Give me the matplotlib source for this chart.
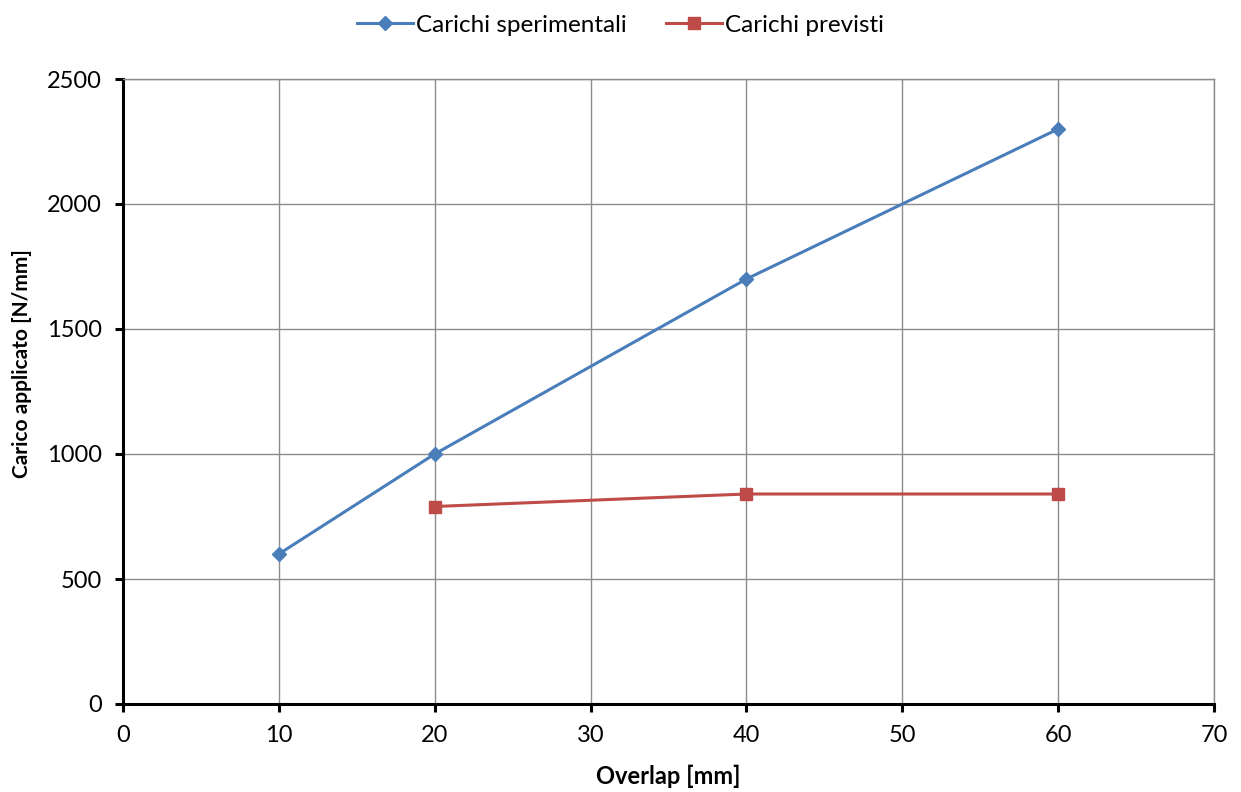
import matplotlib
matplotlib.use("Agg")
import matplotlib.pyplot as plt
from matplotlib.ticker import MultipleLocator

plt.rcParams['font.family'] = ['Lato', 'DejaVu Sans']

# Data
overlap_exp = [10, 20, 40, 60]
carichi_sperimentali = [600, 1000, 1700, 2300]
overlap_prev = [20, 40, 60]
carichi_previsti = [790, 840, 840]

W, H = 1241, 792
fig = plt.figure(figsize=(W / 100, H / 100), dpi=100)
ax = fig.add_axes([123 / W, 1 - 704 / H, (1214 - 123) / W, (704 - 79) / H])

ax.plot(overlap_exp, carichi_sperimentali, color='#4A7EBB', lw=2.2, marker='D',
        markersize=7, label='Carichi sperimentali', zorder=3)
ax.plot(overlap_prev, carichi_previsti, color='#BE4B48', lw=2.2, marker='s',
        markersize=8, label='Carichi previsti', zorder=3)

ax.set_xlim(0, 70)
ax.set_ylim(0, 2500)
ax.xaxis.set_major_locator(MultipleLocator(10))
ax.yaxis.set_major_locator(MultipleLocator(500))
ax.grid(True, color='#8C8C8C', lw=1.0)
ax.set_axisbelow(True)

for side in ('top', 'right'):
    ax.spines[side].set_color('#8C8C8C')
    ax.spines[side].set_linewidth(1.0)
for side in ('left', 'bottom'):
    ax.spines[side].set_color('black')
    ax.spines[side].set_linewidth(2.2)

ax.tick_params(direction='out', length=6, width=2.2, labelsize=17, colors='black')
ax.tick_params(axis='y', pad=9)
ax.tick_params(axis='x', pad=9)

ax.set_xlabel('Overlap [mm]', fontsize=17, fontweight='bold')
ax.xaxis.label.set_va('center')
ax.xaxis.set_label_coords(0.5, -(776 - 704) / 625)

ax.set_ylabel('Carico applicato [N/mm]', fontsize=15, fontweight='bold')
ax.yaxis.label.set_va('center')
ax.yaxis.set_label_coords((22 - 123) / 1091, (704 - 364) / 625)

fig.legend(*ax.get_legend_handles_labels(), loc='center',
           bbox_to_anchor=(0.5, 1 - 25 / H), ncol=2, frameon=False,
           fontsize=17.5, handlelength=2.3, columnspacing=1.6, handletextpad=0.15)

fig.savefig('out.png', dpi=100)
